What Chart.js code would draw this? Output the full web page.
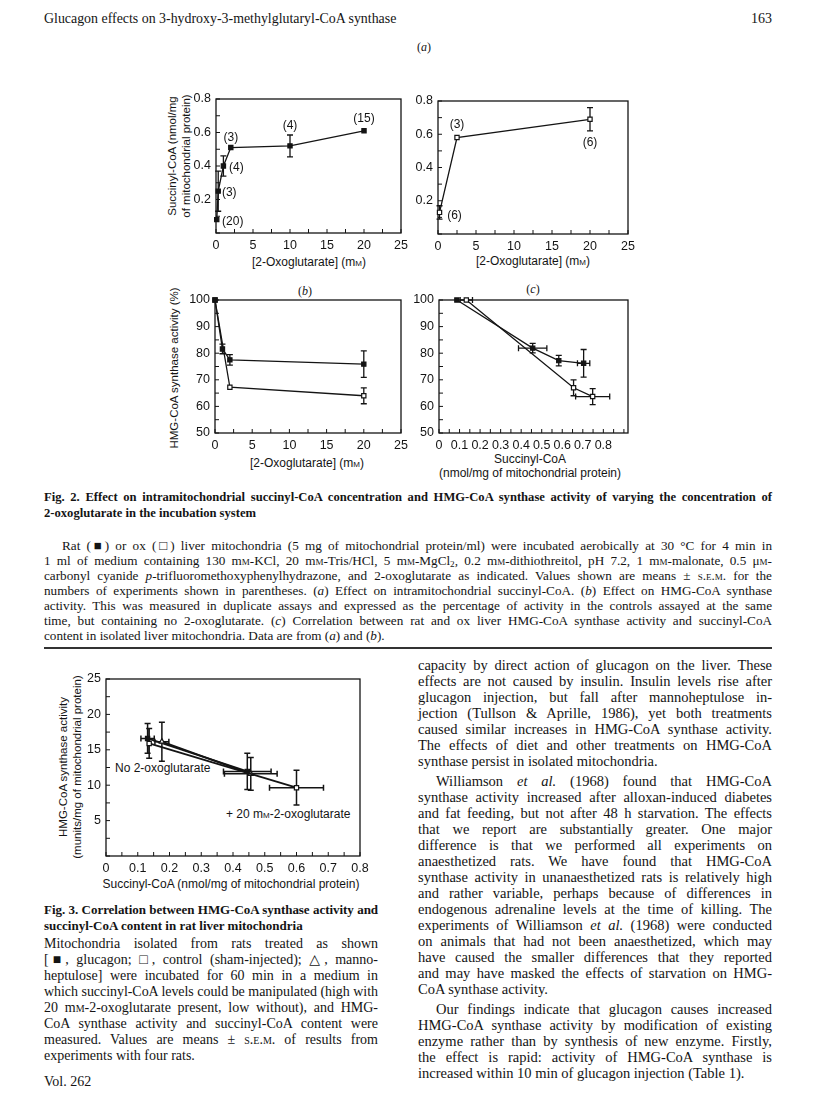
<!DOCTYPE html>
<html>
<head>
<meta charset="utf-8">
<script src="https://cdn.jsdelivr.net/npm/chart.js@4.4.0/dist/chart.umd.min.js"></script>
<style>
  body { margin: 0; background: #fff; }
  #page { position: relative; width: 816px; height: 1097px; overflow: hidden; background: #fff;
          font-family: "Liberation Serif", "DejaVu Serif", serif; color: #141414; }
  .abs { position: absolute; white-space: nowrap; }
  .mid { position: absolute; white-space: nowrap; transform: translate(-50%, -50%); text-align: center; }
  .rot { position: absolute; white-space: nowrap; transform: translate(-50%, -50%) rotate(-90deg); text-align: center; }
  .sans { font-family: "Liberation Sans", Arial, sans-serif; }
  .ln { position: absolute; white-space: nowrap; text-align: justify; text-align-last: justify; }
  .ln.end { text-align-last: left; }
  .sc { font-variant: small-caps; }
  sub { font-size: 70%; line-height: 0; vertical-align: -0.25em; }
  canvas { position: absolute; }
</style>
</head>
<body>
<div id="page">
  <div class="abs" style="left:44px;top:11px;font-size:13.9px;">Glucagon effects on 3-hydroxy-3-methylglutaryl-CoA synthase</div>
  <div class="abs" style="left:744px;top:11px;width:28px;text-align:right;font-size:14px;">163</div>

  <div class="mid" style="left:424px;top:47px;font-size:12px;">(<i>a</i>)</div>
  <div class="mid" style="left:305px;top:291px;font-size:12px;">(<i>b</i>)</div>
  <div class="mid" style="left:533px;top:289px;font-size:12px;">(<i>c</i>)</div>

  <div class="rot sans" style="left:179px;top:156px;font-size:11.5px;line-height:14px;">Succinyl-CoA (nmol/mg<br>of mitochondrial protein)</div>
  <div class="rot sans" style="left:174px;top:368px;font-size:11.5px;">HMG-CoA synthase activity (%)</div>
  <div class="mid sans" style="left:309px;top:262px;font-size:12px;">[2-Oxoglutarate] (m<span class="sc">m</span>)</div>
  <div class="mid sans" style="left:533px;top:261px;font-size:12px;">[2-Oxoglutarate] (m<span class="sc">m</span>)</div>
  <div class="mid sans" style="left:307px;top:463px;font-size:12px;">[2-Oxoglutarate] (m<span class="sc">m</span>)</div>
  <div class="mid sans" style="left:530px;top:466px;font-size:12px;line-height:14px;">Succinyl-CoA<br>(nmol/mg of mitochondrial protein)</div>

  <div class="rot sans" style="left:70px;top:767px;font-size:11.5px;line-height:14px;">HMG-CoA synthase activity<br>(munits/mg of mitochondrial protein)</div>
  <div class="mid sans" style="left:231px;top:884px;font-size:12px;">Succinyl-CoA (nmol/mg of mitochondrial protein)</div>
  <div class="abs sans" style="left:115px;top:761px;font-size:12px;">No 2-oxoglutarate</div>
  <div class="abs sans" style="left:226px;top:807px;font-size:12px;">+ 20 m<span class="sc">m</span>-2-oxoglutarate</div>

  <canvas id="a1"></canvas>
  <canvas id="a2"></canvas>
  <canvas id="b"></canvas>
  <canvas id="c"></canvas>
  <canvas id="f3"></canvas>

  <div style="position:absolute;left:44px;top:647px;width:728px;height:1.5px;background:#333;"></div>
  <div class="abs" style="left:44px;top:1074px;font-size:14px;">Vol. 262</div>
</div>

<script>
// Fig. 2(a): succinyl-CoA (nmol/mg) against [2-oxoglutarate] (mM)
const ratOxo = [0.1, 0.3, 1, 2, 10, 20];
const ratSucc = [0.08, 0.25, 0.40, 0.51, 0.52, 0.61];
const ratSuccErr = [0, 0.12, 0.06, 0, 0.065, 0];
const ratN = ['(20)', '(3)', '(4)', '(3)', '(4)', '(15)'];

const oxOxo = [0.2, 2.5, 20];
const oxSucc = [0.13, 0.58, 0.69];
const oxSuccErr = [0.04, 0, 0.07];
const oxN = ['(6)', '(3)', '(6)'];

// Fig. 2(b): HMG-CoA synthase activity (%) against [2-oxoglutarate]
const ratOxoB = [0, 1, 2, 20];
const ratAct = [100, 81.6, 77.5, 75.9];
const ratActErr = [0, 1.8, 2, 5];
const oxOxoB = [0, 2, 20];
const oxAct = [100, 67.2, 64];
const oxActErr = [0, 0, 3];

// Fig. 2(c): activity (%) against succinyl-CoA
const ratSuccC = [0.087, 0.456, 0.583, 0.704];
const ratSuccCErr = [0, 0.069, 0, 0.03];
const ratActC = [100, 81.9, 77.2, 76.2];
const ratActCErr = [0, 1.8, 2, 5.2];
const oxSuccC = [0.133, 0.655, 0.748];
const oxSuccCErr = [0.03, 0, 0.083];
const oxActC = [100, 67, 63.7];
const oxActCErr = [0, 3, 3];

// Fig. 3: no 2-oxoglutarate -> +20 mM 2-oxoglutarate
const glucSucc = [0.131, 0.445];
const glucSuccErr = [0.021, 0.075];
const glucAct = [16.6, 11.95];
const glucActErr = [2.1, 2.55];
const ctrlSucc = [0.136, 0.60];
const ctrlSuccErr = [0, 0.085];
const ctrlAct = [15.9, 9.65];
const ctrlActErr = [2.1, 2.45];
const mannSucc = [0.176, 0.456];
const mannSuccErr = [0.022, 0.083];
const mannAct = [16.15, 11.6];
const mannActErr = [2.75, 2.3];

// tick labels
const oxoTicks = [0, 5, 10, 15, 20, 25];
const succTicks = [0, 0.2, 0.4, 0.6, 0.8];
const actTicks = [50, 60, 70, 80, 90, 100];
const succTicksC = [0, 0.1, 0.2, 0.3, 0.4, 0.5, 0.6, 0.7, 0.8];
const munitTicks = [0, 5, 10, 15, 20, 25];

const INK = '#141414';
const SANS = '"Liberation Sans", Arial, sans-serif';
const YW = 34, XH = 22, PAD = 16;

// frame, inward ticks, error bars and n-labels
const marks = {
  id: 'marks',
  beforeDatasetsDraw(chart, args, o) {
    const { ctx, chartArea: a, scales: { x, y } } = chart;
    ctx.save();
    ctx.strokeStyle = INK;
    ctx.lineWidth = 1.3;
    ctx.strokeRect(a.left, a.top, a.right - a.left, a.bottom - a.top);

    ctx.lineWidth = 1;
    ctx.beginPath();
    const nx = Math.round((x.max - x.min) / o.xStep);
    for (let i = 0; i <= nx; i++) {
      const px = x.getPixelForValue(x.min + i * o.xStep);
      ctx.moveTo(px, a.bottom); ctx.lineTo(px, a.bottom - 4);
    }
    const ny = Math.round((y.max - y.min) / o.yStep);
    for (let i = 0; i <= ny; i++) {
      const py = y.getPixelForValue(y.min + i * o.yStep);
      ctx.moveTo(a.left, py); ctx.lineTo(a.left + 4, py);
    }
    ctx.stroke();

    ctx.lineWidth = o.errWidth || 1.3;
    ctx.beginPath();
    chart.data.datasets.forEach(ds => {
      ds.data.forEach((p, i) => {
        const px = x.getPixelForValue(p.x), py = y.getPixelForValue(p.y);
        const ey = ds.errY ? ds.errY[i] : 0, ex = ds.errX ? ds.errX[i] : 0;
        if (ey) {
          const t = y.getPixelForValue(p.y + ey), b = y.getPixelForValue(p.y - ey);
          ctx.moveTo(px, t); ctx.lineTo(px, b);
          ctx.moveTo(px - 3, t); ctx.lineTo(px + 3, t);
          ctx.moveTo(px - 3, b); ctx.lineTo(px + 3, b);
        }
        if (ex) {
          const l = x.getPixelForValue(p.x - ex), r = x.getPixelForValue(p.x + ex);
          ctx.moveTo(l, py); ctx.lineTo(r, py);
          ctx.moveTo(l, py - 3); ctx.lineTo(l, py + 3);
          ctx.moveTo(r, py - 3); ctx.lineTo(r, py + 3);
        }
      });
    });
    ctx.stroke();
    ctx.restore();
  },
  afterDatasetsDraw(chart, args, o) {
    if (!o.offsets) return;
    const { ctx, scales: { x, y } } = chart;
    ctx.save();
    ctx.fillStyle = INK;
    ctx.font = '12px ' + SANS;
    ctx.textAlign = 'center';
    ctx.textBaseline = 'middle';
    chart.data.datasets.forEach((ds, d) => {
      if (!ds.nums) return;
      ds.nums.forEach((t, i) => {
        const off = o.offsets[d][i];
        ctx.fillText(t, x.getPixelForValue(ds.data[i].x) + off[0], y.getPixelForValue(ds.data[i].y) + off[1]);
      });
    });
    ctx.restore();
  }
};

function pts(xs, ys) { return xs.map((v, i) => ({ x: v, y: ys[i] })); }

function series(xs, ys, xErr, yErr, filled, style, width) {
  return {
    data: pts(xs, ys),
    errX: xErr, errY: yErr,
    showLine: true, clip: false,
    borderColor: INK, borderWidth: width || 1.3,
    pointStyle: style || 'rect', pointRadius: 3,
    pointBackgroundColor: filled ? INK : '#fff',
    pointBorderColor: INK, pointBorderWidth: 1.2
  };
}

function axis(pos, min, max, ticks, hideZero) {
  return {
    type: 'linear', position: pos, min: min, max: max,
    grid: { display: false, drawTicks: false },
    border: { display: false },
    afterBuildTicks: ax => { ax.ticks = ticks.map(v => ({ value: v })); },
    afterFit: ax => { if (pos === 'left') ax.width = YW; else ax.height = XH; },
    ticks: {
      padding: 5, color: INK, font: { family: SANS, size: 12.5 },
      callback: v => (hideZero && v === 0) ? '' : String(v)
    }
  };
}

function plot(id, box, datasets, xs, ys, markOpts) {
  const cv = document.getElementById(id);
  const w = box.w + YW + 2 * PAD, h = box.h + XH + 2 * PAD;
  cv.width = w; cv.height = h;
  cv.style.width = w + 'px'; cv.style.height = h + 'px';
  cv.style.left = (box.l - YW - PAD) + 'px';
  cv.style.top = (box.t - PAD) + 'px';
  return new Chart(cv, {
    type: 'scatter',
    data: { datasets: datasets },
    options: {
      responsive: false, animation: false,
      layout: { padding: PAD },
      scales: { x: xs, y: ys },
      plugins: { legend: { display: false }, tooltip: { enabled: false }, marks: markOpts }
    },
    plugins: [marks]
  });
}

// (a) rat
const a1Rat = series(ratOxo, ratSucc, null, ratSuccErr, true);
a1Rat.nums = ratN;
plot('a1', { l: 216, t: 99, w: 185, h: 134 }, [a1Rat],
  axis('bottom', 0, 25, oxoTicks, false), axis('left', 0, 0.8, succTicks, true),
  { xStep: 2.5, yStep: 0.1, offsets: [[[16, 2], [11, 2], [13, 2], [0, -10], [0, -20], [0, -12]]] });

// (a) ox
const a2Ox = series(oxOxo, oxSucc, null, oxSuccErr, false);
a2Ox.nums = oxN;
plot('a2', { l: 438, t: 101, w: 190, h: 133 }, [a2Ox],
  axis('bottom', 0, 25, oxoTicks, false), axis('left', 0, 0.8, succTicks, true),
  { xStep: 2.5, yStep: 0.1, offsets: [[[15, 3], [0, -13], [0, 23]]] });

// (b)
plot('b', { l: 215, t: 300, w: 186, h: 133 },
  [series(ratOxoB, ratAct, null, ratActErr, true), series(oxOxoB, oxAct, null, oxActErr, false)],
  axis('bottom', 0, 25, oxoTicks, false), axis('left', 50, 100, actTicks, false),
  { xStep: 2.5, yStep: 5 });

// (c)
plot('c', { l: 439, t: 300, w: 189, h: 133 },
  [series(ratSuccC, ratActC, ratSuccCErr, ratActCErr, true), series(oxSuccC, oxActC, oxSuccCErr, oxActCErr, false)],
  axis('bottom', 0, 0.92, succTicksC, false), axis('left', 50, 100, actTicks, false),
  { xStep: 0.05, yStep: 5 });

// Fig. 3
plot('f3', { l: 106, t: 679, w: 254, h: 177 },
  [series(ctrlSucc, ctrlAct, ctrlSuccErr, ctrlActErr, false, 'rect', 1.8),
   series(mannSucc, mannAct, mannSuccErr, mannActErr, false, 'triangle', 1.8),
   series(glucSucc, glucAct, glucSuccErr, glucActErr, true, 'rect', 1.8)],
  axis('bottom', 0, 0.8, succTicksC, false), axis('left', 0, 25, munitTicks, true),
  { xStep: 0.05, yStep: 2.5, errWidth: 1.5 });

// running text, one div per printed line
const SC = s => '<span class="sc">' + s + '</span>';
const MM = 'm' + SC('m');

function block(lines, left, top, width, lh, size, bold) {
  const page = document.getElementById('page');
  lines.forEach((s, i) => {
    const d = document.createElement('div');
    let ind = 0;
    if (s[0] === '>') { ind = 18; s = s.slice(1); }
    const end = s[s.length - 1] === '|';
    if (end) s = s.slice(0, -1);
    d.className = 'ln' + (end ? ' end' : '');
    d.style.left = (left + ind) + 'px';
    d.style.top = (top + i * lh) + 'px';
    d.style.width = (width - ind) + 'px';
    d.style.fontSize = size + 'px';
    d.style.lineHeight = lh + 'px';
    if (bold) d.style.fontWeight = 'bold';
    d.innerHTML = s;
    page.appendChild(d);
    // squeeze a line that is wider than its measure
    let ls = 0;
    while (d.scrollWidth > d.clientWidth + 0.5 && ls > -1) {
      ls -= 0.05;
      d.style.letterSpacing = ls + 'px';
    }
  });
}

block([
  'Fig. 2. Effect on intramitochondrial succinyl-CoA concentration and HMG-CoA synthase activity of varying the concentration of',
  '2-oxoglutarate in the incubation system|'
], 44, 489, 728, 16, 12.6, true);

block([
  '>Rat (■) or ox (□) liver mitochondria (5 mg of mitochondrial protein/ml) were incubated aerobically at 30 °C for 4 min in',
  '1 ml of medium containing 130 ' + MM + '-KCl, 20 ' + MM + '-Tris/HCl, 5 ' + MM + '-MgCl<sub>2</sub>, 0.2 ' + MM + '-dithiothreitol, pH 7.2, 1 ' + MM + '-malonate, 0.5 μ' + SC('m') + '-',
  'carbonyl cyanide <i>p</i>-trifluoromethoxyphenylhydrazone, and 2-oxoglutarate as indicated. Values shown are means ± ' + SC('s.e.m.') + ' for the',
  'numbers of experiments shown in parentheses. (<i>a</i>) Effect on intramitochondrial succinyl-CoA. (<i>b</i>) Effect on HMG-CoA synthase',
  'activity. This was measured in duplicate assays and expressed as the percentage of activity in the controls assayed at the same',
  'time, but containing no 2-oxoglutarate. (<i>c</i>) Correlation between rat and ox liver HMG-CoA synthase activity and succinyl-CoA',
  'content in isolated liver mitochondria. Data are from (<i>a</i>) and (<i>b</i>).|'
], 44, 537.5, 728, 15, 13.2, false);

block([
  'Fig. 3. Correlation between HMG-CoA synthase activity and',
  'succinyl-CoA content in rat liver mitochondria|'
], 44, 902, 334, 16, 13, true);

block([
  'Mitochondria isolated from rats treated as shown',
  '[■, glucagon; □, control (sham-injected); △, manno-',
  'heptulose] were incubated for 60 min in a medium in',
  'which succinyl-CoA levels could be manipulated (high with',
  '20 ' + MM + '-2-oxoglutarate present, low without), and HMG-',
  'CoA synthase activity and succinyl-CoA content were',
  'measured. Values are means ± ' + SC('s.e.m.') + ' of results from',
  'experiments with four rats.|'
], 44, 936, 334, 16, 14, false);

block([
  'capacity by direct action of glucagon on the liver. These',
  'effects are not caused by insulin. Insulin levels rise after',
  'glucagon injection, but fall after mannoheptulose in-',
  'jection (Tullson &amp; Aprille, 1986), yet both treatments',
  'caused similar increases in HMG-CoA synthase activity.',
  'The effects of diet and other treatments on HMG-CoA',
  'synthase persist in isolated mitochondria.|'
], 418, 657, 354, 16, 14.5, false);

block([
  '>Williamson <i>et al.</i> (1968) found that HMG-CoA',
  'synthase activity increased after alloxan-induced diabetes',
  'and fat feeding, but not after 48 h starvation. The effects',
  'that we report are substantially greater. One major',
  'difference is that we performed all experiments on',
  'anaesthetized rats. We have found that HMG-CoA',
  'synthase activity in unanaesthetized rats is relatively high',
  'and rather variable, perhaps because of differences in',
  'endogenous adrenaline levels at the time of killing. The',
  'experiments of Williamson <i>et al.</i> (1968) were conducted',
  'on animals that had not been anaesthetized, which may',
  'have caused the smaller differences that they reported',
  'and may have masked the effects of starvation on HMG-',
  'CoA synthase activity.|'
], 418, 773, 354, 16, 14.5, false);

block([
  '>Our findings indicate that glucagon causes increased',
  'HMG-CoA synthase activity by modification of existing',
  'enzyme rather than by synthesis of new enzyme. Firstly,',
  'the effect is rapid: activity of HMG-CoA synthase is',
  'increased within 10 min of glucagon injection (Table 1).|'
], 418, 1001, 354, 16, 14.5, false);
</script>
</body>
</html>
